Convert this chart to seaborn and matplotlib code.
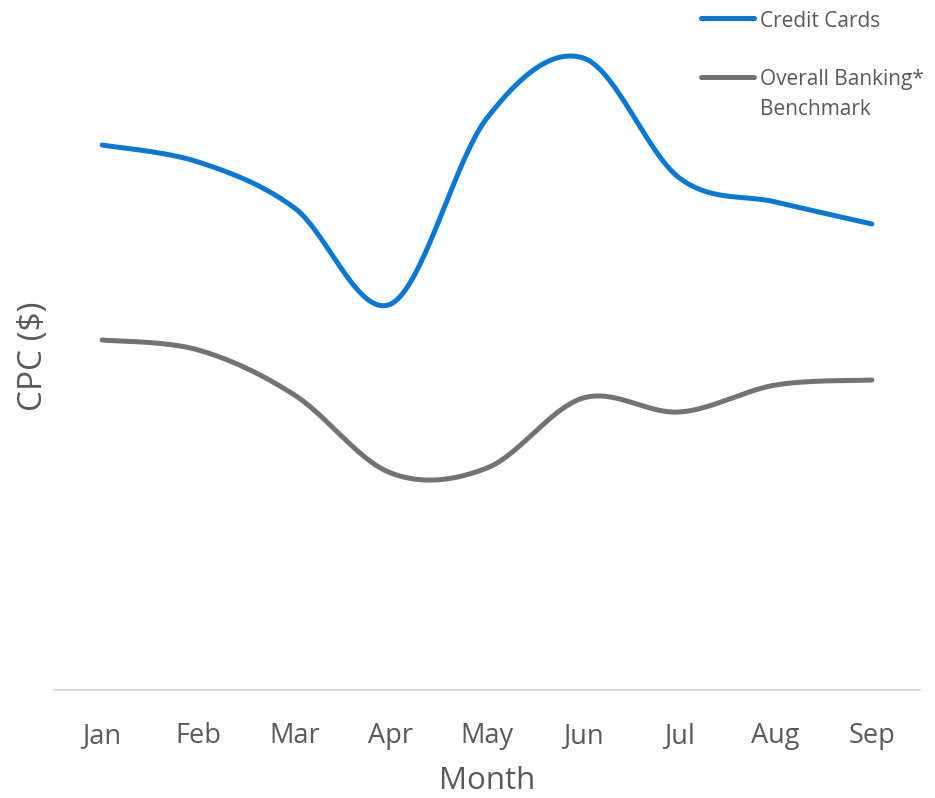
import numpy as np
import pandas as pd
import matplotlib
matplotlib.use("Agg")
import matplotlib.pyplot as plt
import seaborn as sns
from matplotlib.lines import Line2D

months = ["Jan", "Feb", "Mar", "Apr", "May", "Jun", "Jul", "Aug", "Sep"]
credit_cards = [5.45, 5.28, 4.82, 3.86, 5.72, 6.32, 5.12, 4.88, 4.66]
overall_banking = [3.50, 3.40, 2.95, 2.17, 2.22, 2.92, 2.78, 3.05, 3.10]
series_names = ["Credit Cards", "Overall Banking*\nBenchmark"]
colors = ["#0A78D6", "#737373"]

sns.set_theme(style="white")
plt.rcParams['font.family'] = ['Open Sans', 'DejaVu Sans']

TEXT = "#595959"
W, H = 935, 798


def smooth(xs, ys, n=40):
    """Excel-style smoothed line rendering (cubic Bezier through the points)."""
    xs = np.asarray(xs, float)
    ys = np.asarray(ys, float)
    px, py = [], []
    m = len(xs)
    for i in range(m - 1):
        p0 = np.array([xs[max(i - 1, 0)], ys[max(i - 1, 0)]])
        p1 = np.array([xs[i], ys[i]])
        p2 = np.array([xs[i + 1], ys[i + 1]])
        p3 = np.array([xs[min(i + 2, m - 1)], ys[min(i + 2, m - 1)]])
        c1 = p1 + (p2 - p0) / 6.0
        c2 = p2 - (p3 - p1) / 6.0
        t = np.linspace(0, 1, n, endpoint=(i == m - 2))
        b = ((1 - t) ** 3)[:, None] * p1 + (3 * (1 - t) ** 2 * t)[:, None] * c1 \
            + (3 * (1 - t) * t ** 2)[:, None] * c2 + (t ** 3)[:, None] * p2
        px.extend(b[:, 0])
        py.extend(b[:, 1])
    return np.array(px), np.array(py)


fig = plt.figure(figsize=(W / 100, H / 100), dpi=100)
ax = fig.add_axes([54 / W, 1 - 690 / H, 866 / W, 690 / H])

x_idx = np.arange(len(months))
frames = []
for name, vals in zip(series_names, [credit_cards, overall_banking]):
    sx, sy = smooth(x_idx, vals)
    frames.append(pd.DataFrame({"x": sx, "y": sy, "series": name}))
df = pd.concat(frames, ignore_index=True)

sns.lineplot(data=df, x="x", y="y", hue="series", palette=colors, sort=False,
             linewidth=3.6, ax=ax, legend=False, solid_capstyle="round")

ax.set_xlim(-0.5, len(months) - 0.5)
ax.set_ylim(0, 6.9)
ax.set_xticks(x_idx)
ax.set_xticklabels(months, fontsize=19.5, color=TEXT)
ax.set_yticks([])
ax.tick_params(axis="x", length=0, pad=23)
for s in ["top", "right", "left"]:
    ax.spines[s].set_visible(False)
ax.spines["bottom"].set_color("#D9D9D9")
ax.spines["bottom"].set_linewidth(1.3)

ax.set_xlabel("Month", fontsize=22.5, color=TEXT, va="baseline")
ax.xaxis.set_label_coords(0.5, (690 - 789) / 690)
ax.set_ylabel("CPC ($)", fontsize=24, color=TEXT, va="baseline")
ax.yaxis.set_label_coords((42 - 54) / 866, (690 - 356.5) / 690)

# legend (drawn manually to match the reference layout)
legend_rows = [(series_names[0], colors[0], 18, [27]),
               (series_names[1], colors[1], 76.5, [85, 115])]
for label, col, ly, baselines in legend_rows:
    fig.add_artist(Line2D([701 / W, 754 / W], [1 - ly / H, 1 - ly / H], color=col,
                          lw=3.6, solid_capstyle="round", transform=fig.transFigure))
    for line_txt, bl in zip(label.split("\n"), baselines):
        fig.text(760 / W, 1 - bl / H, line_txt, fontsize=15, color=TEXT,
                 ha="left", va="baseline")

fig.savefig("out.png", dpi=100)
